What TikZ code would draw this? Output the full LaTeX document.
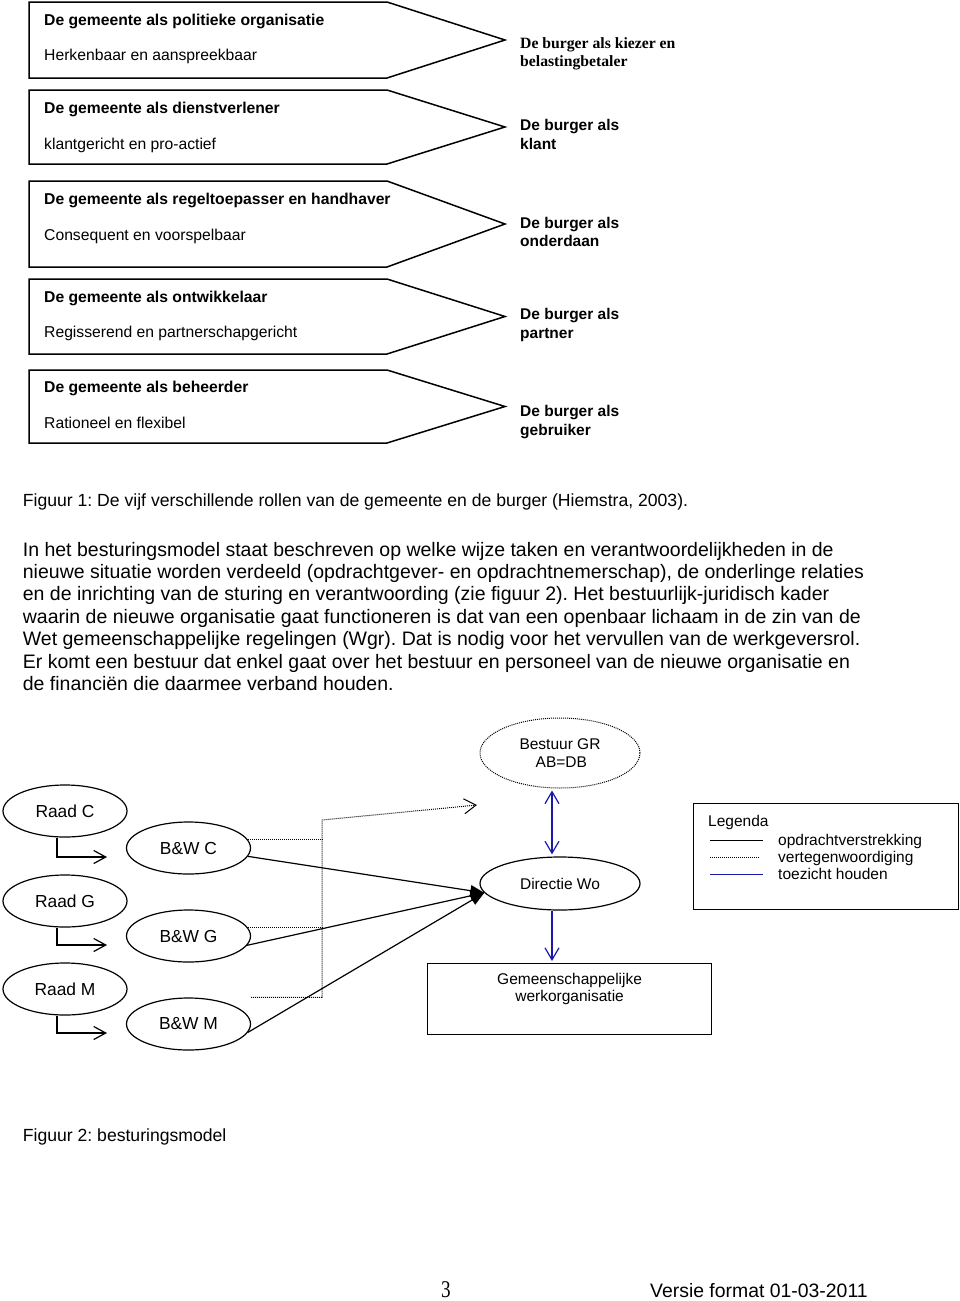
\documentclass[tikz,border=0pt]{standalone}
\usepackage{fontspec}
\setmainfont{Liberation Sans}
\newfontfamily\timesfont{Liberation Serif}
\usepackage{graphicx}
\usetikzlibrary{arrows.meta,calc,shapes.geometric}
\definecolor{tzblue}{RGB}{25,25,170}
\frenchspacing
\tikzset{
  pshape/.style={draw, line width=1.5pt, line join=miter},
  ftitle/.style={font=\fontsize{15.7}{18.3}\selectfont\bfseries, anchor=base west, inner sep=0pt},
  fsub/.style={font=\fontsize{15.7}{18.3}\selectfont, anchor=base west, inner sep=0pt},
  fright/.style={font=\fontsize{15.5}{18.3}\selectfont\bfseries, anchor=base west, inner sep=0pt},
  fserif/.style={font=\fontsize{15.7}{18.3}\timesfont\bfseries, anchor=base west, inner sep=0pt},
  fcap/.style={font=\fontsize{17.6}{20}\selectfont, anchor=base west, inner sep=0pt},
  fbody/.style={font=\fontsize{19.5}{22.5}\selectfont, anchor=base west, inner sep=0pt},
  ell/.style={draw, ellipse, line width=1.2pt, minimum width=124pt, minimum height=52pt, inner sep=0pt, font=\fontsize{17.4}{20}\selectfont},
  bigell/.style={draw, ellipse, line width=1.2pt, minimum width=160pt, inner sep=0pt, align=center, font=\fontsize{15.5}{18.3}\selectfont},
  dotl/.style={line width=1pt, dash pattern=on 1pt off 1pt},
  solidl/.style={line width=1.2pt},
  bluel/.style={line width=1.2pt, draw=tzblue},
  fleg/.style={font=\fontsize{15.5}{18.3}\selectfont, anchor=base west, inner sep=0pt},
}
\begin{document}
\begin{tikzpicture}[x=1pt,y=-1pt]
\useasboundingbox[fill=white] (0,0) rectangle (960,1301);

% ---------- Figure 1: role arrows ----------
\foreach \t/\b in {2/78, 90/164, 181/267, 279/354, 370/443}{
  \draw[pshape] (29,\t) -- (387,\t) -- (505,{(\t+\b)/2}) -- (387,\b) -- (29,\b) -- cycle;
}
\node[ftitle] (t1) at (44,25) {De gemeente als politieke organisatie};
\node[fsub]   (s1) at (44,60.7) {Herkenbaar en aanspreekbaar};
\node[ftitle] (t2) at (44,113) {De gemeente als dienstverlener};
\node[fsub]   (s2) at (44,149) {klantgericht en pro-actief};
\node[ftitle] (t3) at (44,204) {De gemeente als regeltoepasser en handhaver};
\node[fsub]   (s3) at (44,240) {Consequent en voorspelbaar};
\node[ftitle] (t4) at (44,302) {De gemeente als ontwikkelaar};
\node[fsub]   (s4) at (44,337.7) {Regisserend en partnerschapgericht};
\node[ftitle] (t5) at (44,392.5) {De gemeente als beheerder};
\node[fsub]   (s5) at (44,428.5) {Rationeel en flexibel};

\node[fserif] (r1a) at (520,48.3) {De burger als kiezer en};
\node[fserif] (r1b) at (520,66.3) {belastingbetaler};
\node[fright] (r2a) at (520,130) {De burger als};
\node[fright] (r2b) at (520,149) {klant};
\node[fright] (r3a) at (520,228.3) {De burger als};
\node[fright] (r3b) at (520,246.7) {onderdaan};
\node[fright] (r4a) at (520,319.3) {De burger als};
\node[fright] (r4b) at (520,338.3) {partner};
\node[fright] (r5a) at (520,416.7) {De burger als};
\node[fright] (r5b) at (520,435) {gebruiker};

\node[fcap] (cap1) at (22.7,506.7) {Figuur 1: De vijf verschillende rollen van de gemeente en de burger (Hiemstra, 2003).};

% ---------- body text ----------
\node[fbody] (b1) at (22.7,556) {In het besturingsmodel staat beschreven op welke wijze taken en verantwoordelijkheden in de};
\node[fbody] (b2) at (22.7,578.4) {nieuwe situatie worden verdeeld (opdrachtgever- en opdrachtnemerschap), de onderlinge relaties};
\node[fbody] (b3) at (22.7,600.9) {en de inrichting van de sturing en verantwoording (zie figuur 2). Het bestuurlijk-juridisch kader};
\node[fbody] (b4) at (22.7,623.3) {waarin de nieuwe organisatie gaat functioneren is dat van een openbaar lichaam in de zin van de};
\node[fbody] (b5) at (22.7,645.7) {Wet gemeenschappelijke regelingen (Wgr). Dat is nodig voor het vervullen van de werkgeversrol.};
\node[fbody] (b6) at (22.7,668.1) {Er komt een bestuur dat enkel gaat over het bestuur en personeel van de nieuwe organisatie en};
\node[fbody] (b7) at (22.7,690.6) {de financiën die daarmee verband houden.};

% ---------- Figure 2: besturingsmodel ----------
\node[ell] (rc) at (65,811) {Raad C};
\node[ell] (rg) at (65,901) {Raad G};
\node[ell] (rm) at (65,989) {Raad M};
\node[ell] (bwc) at (188.5,848) {B\&W C};
\node[ell] (bwg) at (188.5,936) {B\&W G};
\node[ell] (bwm) at (188.5,1024) {B\&W M};

\node[bigell, dash pattern=on 1pt off 1pt, line width=1pt, minimum height=70pt] (bg) at (560,753) {Bestuur GR\\\,AB=DB};
\node[bigell, minimum height=53pt] (dw) at (560,883.5) {Directie Wo};
\node[draw, rectangle, line width=1.2pt, minimum width=284pt, minimum height=71pt, inner sep=0pt, anchor=north west] (gwo) at (427,963) {};
\node[align=center, inner sep=0pt, anchor=north, font=\fontsize{15.5}{17.2}\selectfont] (gwotext) at ($(gwo.north)+(0,10)$) {Gemeenschappelijke\\werkorganisatie};

% elbow arrows Raad -> B&W
\coordinate (ec) at (107,857);
\coordinate (eg) at (107,945);
\coordinate (em) at (107,1033);
\draw[solidl, -{Straight Barb[length=12pt,width=13pt,line width=1.2pt]}] ($(rc.south)+(-8,0)$) |- (ec);
\draw[solidl, -{Straight Barb[length=12pt,width=13pt,line width=1.2pt]}] ($(rg.south)+(-8,0)$) |- (eg);
\draw[solidl, -{Straight Barb[length=12pt,width=13pt,line width=1.2pt]}] ($(rm.south)+(-8,0)$) |- (em);

% dotted: vertegenwoordiging
\coordinate (jx) at (322,0);
\coordinate (jtop) at (322,820);
\coordinate (dotend) at (477,805);
\draw[dotl] (bwc.8) -- (bwc.8 -| jx);
\draw[dotl] (bwg.8) -- (bwg.8 -| jx);
\draw[dotl, -{Straight Barb[length=12pt,width=15pt,line width=1pt]}] (bwm.east |- bwm.north) -- (jx |- bwm.north) -- (jtop) -- (dotend);

% solid: opdrachtverstrekking
\draw[solidl, -{Triangle[length=14pt,width=11pt]}] (bwc.-8) -- (dw.187);
\draw[solidl, -{Triangle[length=14pt,width=11pt]}] (bwg.-9) -- (dw.187);
\draw[solidl, -{Triangle[length=14pt,width=11pt]}] (bwm.-8) -- (dw.187);

% blue: toezicht houden
\coordinate (ax) at (552,0);
\draw[bluel, {Straight Barb[length=12pt,width=14pt,line width=1.2pt]}-{Straight Barb[length=12pt,width=14pt,line width=1.2pt]}, shorten <=2pt, shorten >=2pt] (bg.south -| ax) -- (dw.north -| ax);
\draw[bluel, -{Straight Barb[length=12pt,width=14pt,line width=1.2pt]}, shorten >=2pt] (dw.south -| ax) -- (gwo.north -| ax);

% legend
\node[draw, rectangle, line width=1.2pt, minimum width=265pt, minimum height=106pt, inner sep=0pt, anchor=north west] (leg) at (693,803) {};
\node[fleg] (legt) at (708,826) {Legenda};
\node[fleg] (leg1) at (778,845) {opdrachtverstrekking};
\node[fleg] (leg2) at (778,862) {vertegenwoordiging};
\node[fleg] (leg3) at (778,879.5) {toezicht houden};
\draw[solidl] (710,840.5) -- (763,840.5);
\draw[dotl] (710,857.5) -- (760,857.5);
\draw[bluel] (710,874.5) -- (763,874.5);

% captions and footer
\node[fcap] (cap2) at (22.7,1141) {Figuur 2: besturingsmodel};
\node[inner sep=0pt, anchor=base, font=\fontsize{24}{26}\timesfont] (pnum) at (446,1297) {\scalebox{0.8}[1]{3}};
\node[inner sep=0pt, anchor=base west, font=\fontsize{19.4}{22}\selectfont] (versie) at (650,1297) {Versie format 01-03-2011};
\end{tikzpicture}
\end{document}
